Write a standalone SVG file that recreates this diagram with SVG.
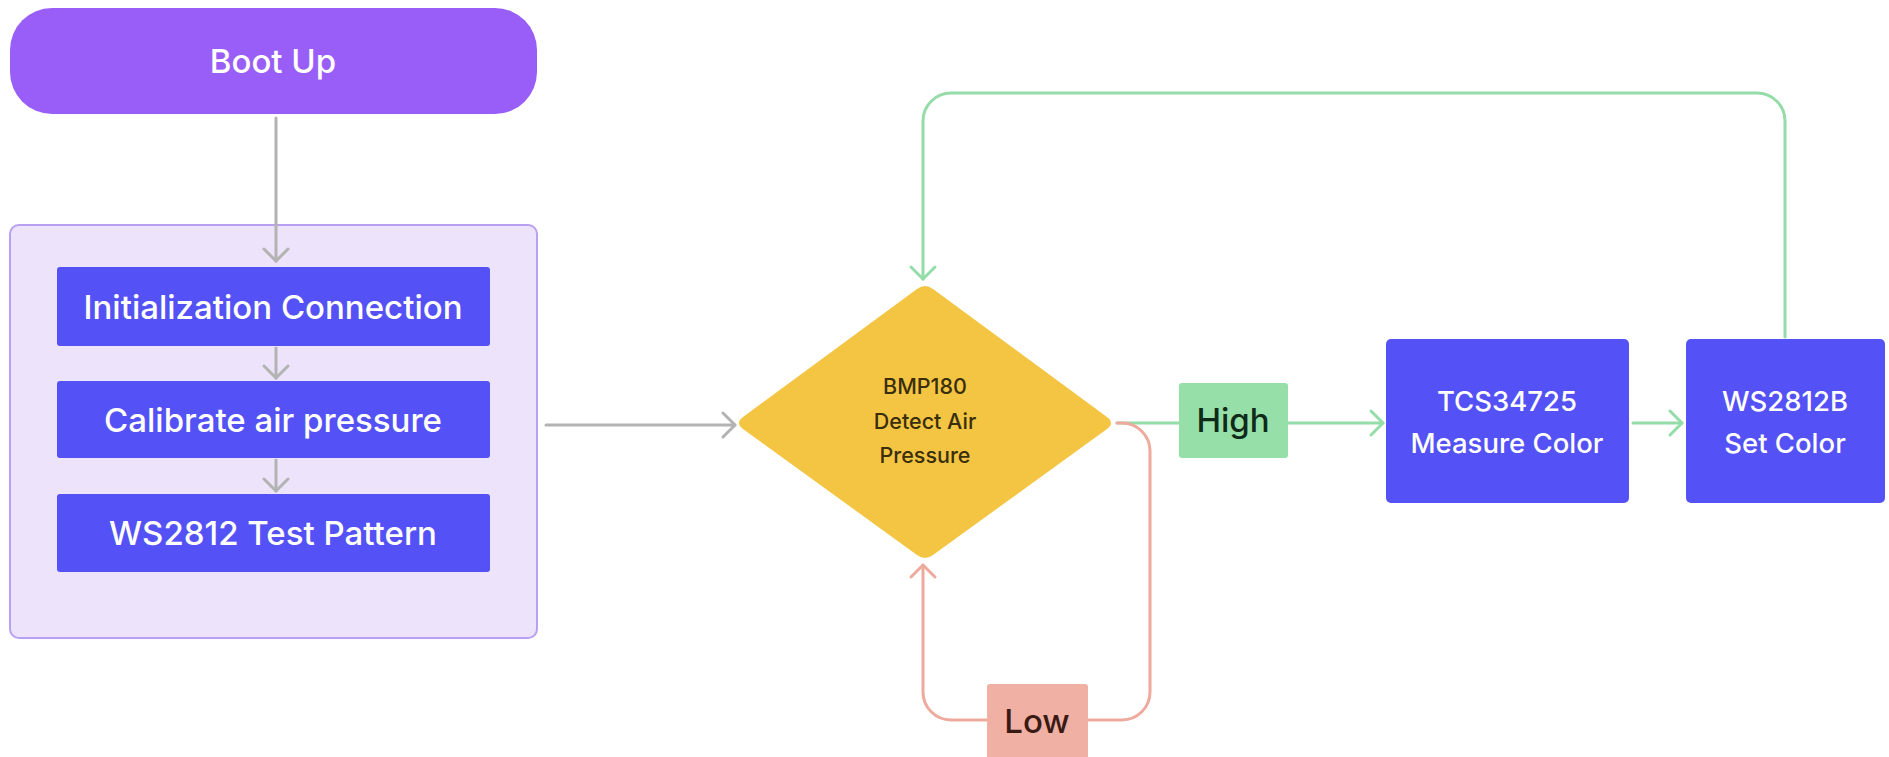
<svg xmlns="http://www.w3.org/2000/svg" width="1889" height="757" viewBox="0 0 1889 757">
<style>
.t{font-family:Inter,"Noto Sans","Liberation Sans",sans-serif;text-anchor:middle;font-weight:500}
.w{fill:#ffffff}
.blue{fill:#5452f6}
.c{fill:none;stroke-width:3;stroke-linecap:round;stroke-linejoin:round}
.gray{stroke:#b3b3b3}
.green{stroke:#94dca8}
.pink{stroke:#eeaa9c}
</style>
<defs>
<marker id="mg" markerWidth="30" markerHeight="30" refX="15" refY="15" orient="auto" markerUnits="userSpaceOnUse"><path d="M3,3 L15,15 L3,27" fill="none" stroke="#b3b3b3" stroke-width="3" stroke-linecap="round" stroke-linejoin="round"/></marker>
<marker id="mgr" markerWidth="30" markerHeight="30" refX="15" refY="15" orient="auto" markerUnits="userSpaceOnUse"><path d="M3,3 L15,15 L3,27" fill="none" stroke="#94dca8" stroke-width="3" stroke-linecap="round" stroke-linejoin="round"/></marker>
<marker id="mp" markerWidth="30" markerHeight="30" refX="15" refY="15" orient="auto" markerUnits="userSpaceOnUse"><path d="M3,3 L15,15 L3,27" fill="none" stroke="#eeaa9c" stroke-width="3" stroke-linecap="round" stroke-linejoin="round"/></marker>
</defs>
<rect width="1889" height="757" fill="#ffffff"/>
<g id="container">
<rect x="10" y="225" width="527" height="413" rx="9" fill="#ede3fb" stroke="#b9a0f2" stroke-width="2"/>
</g>
<g id="connectors">
<path class="c gray" d="M276,118 V261" marker-end="url(#mg)"/>
<path class="c gray" d="M276,348 V378" marker-end="url(#mg)"/>
<path class="c gray" d="M276,460 V491" marker-end="url(#mg)"/>
<path class="c gray" d="M546,425 H735" marker-end="url(#mg)"/>
<path class="c green" d="M1785,337 V121 A28,28 0 0 0 1757,93 H951 A28,28 0 0 0 923,121 V279" marker-end="url(#mgr)"/>
<path class="c green" d="M1117,423 H1180"/>
<path class="c green" d="M1288,423 H1383" marker-end="url(#mgr)"/>
<path class="c green" d="M1633,423 H1682" marker-end="url(#mgr)"/>
<path class="c pink" d="M1117,423 H1122 A28,28 0 0 1 1150,451 V692 A28,28 0 0 1 1122,720 H951 A28,28 0 0 1 923,692 V565" marker-end="url(#mp)"/>
</g>
<g id="boot">
<rect x="10" y="8" width="527" height="106" rx="42" fill="#995ef7"/>
<text class="t w" x="273" y="73" font-size="33">Boot Up</text>
</g>
<g id="init">
<rect class="blue" x="57" y="267" width="433" height="79" rx="3"/>
<text class="t w" x="273" y="319" font-size="33">Initialization Connection</text>
</g>
<g id="calib">
<rect class="blue" x="57" y="381" width="433" height="77" rx="3"/>
<text class="t w" x="273" y="432" font-size="33">Calibrate air pressure</text>
</g>
<g id="test">
<rect class="blue" x="57" y="494" width="433" height="78" rx="3"/>
<text class="t w" x="273" y="545" font-size="33">WS2812 Test Pattern</text>
</g>
<g id="bmp">
<path d="M917,289 Q925,283 933,289 L1107,417 Q1115,423 1107,429 L933,555 Q925,561 917,555 L743,429 Q735,423 743,417 Z" fill="#f4c542"/>
<text class="t" x="925" y="394" font-size="21.5" fill="#3a2e0c">BMP180</text>
<text class="t" x="925" y="429" font-size="21.5" fill="#3a2e0c">Detect Air</text>
<text class="t" x="925" y="463" font-size="21.5" fill="#3a2e0c">Pressure</text>
</g>
<g id="high">
<rect x="1179" y="383" width="109" height="75" rx="3" fill="#97dfa8"/>
<text class="t" x="1233" y="432" font-size="33" fill="#0f2a18">High</text>
</g>
<g id="low">
<rect x="987" y="684" width="101" height="80" rx="3" fill="#f0b0a3"/>
<text class="t" x="1037" y="733" font-size="33" fill="#3a1a14">Low</text>
</g>
<g id="tcs">
<rect class="blue" x="1386" y="339" width="243" height="164" rx="5"/>
<text class="t w" x="1507" y="411" font-size="27.5">TCS34725</text>
<text class="t w" x="1507" y="453" font-size="27.5">Measure Color</text>
</g>
<g id="ws">
<rect class="blue" x="1686" y="339" width="199" height="164" rx="5"/>
<text class="t w" x="1785" y="411" font-size="27.5">WS2812B</text>
<text class="t w" x="1785" y="453" font-size="27.5">Set Color</text>
</g>
</svg>
